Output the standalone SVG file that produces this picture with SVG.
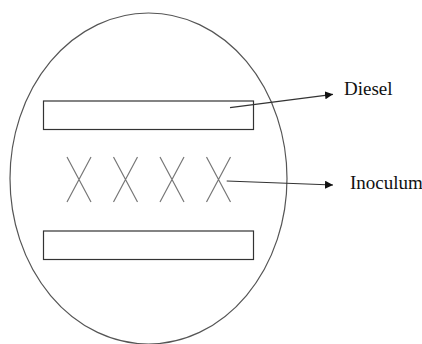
<svg xmlns="http://www.w3.org/2000/svg" width="422" height="344" viewBox="0 0 422 344">
  <style>
    .outline { fill: none; stroke: #555; stroke-width: 1.2; }
    .box { fill: #fff; stroke: #333; stroke-width: 1.2; }
    .cross { stroke: #777; stroke-width: 1.2; fill: none; }
    .conn { stroke: #333; stroke-width: 1.2; fill: none; }
    .label { font-size: 19px; fill: #111; }
  </style>
  <defs>
    <marker id="arrow" viewBox="0 0 10 10" refX="10" refY="5" markerWidth="8" markerHeight="8" markerUnits="userSpaceOnUse" orient="auto">
      <path d="M0,0 L10,5 L0,10 z" fill="#111"/>
    </marker>
  </defs>
  <rect width="422" height="344" fill="#fff"/>

  <g id="vessel">
    <ellipse class="outline" cx="148.5" cy="178.5" rx="138.5" ry="165.5"/>
  </g>

  <g id="diesel-top">
    <rect class="box" x="43.5" y="101" width="210" height="28.5"/>
  </g>

  <g id="diesel-bottom">
    <rect class="box" x="43.5" y="231" width="210" height="28.5"/>
  </g>

  <g id="inoculum">
    <path class="cross" d="M67,157 L91,202 M91,157 L67,202"/>
    <path class="cross" d="M113.5,157 L137.5,202 M137.5,157 L113.5,202"/>
    <path class="cross" d="M160,157 L184,202 M184,157 L160,202"/>
    <path class="cross" d="M206.5,157 L230.5,202 M230.5,157 L206.5,202"/>
  </g>

  <g id="connectors">
    <line class="conn" x1="230" y1="107.7" x2="333" y2="94.3" marker-end="url(#arrow)"/>
    <line class="conn" x1="226.7" y1="181" x2="333" y2="185" marker-end="url(#arrow)"/>
  </g>

  <g id="label-diesel">
    <text class="label" font-family="Liberation Serif, Times New Roman, serif" x="344" y="95">Diesel</text>
  </g>
  <g id="label-inoculum">
    <text class="label" font-family="Liberation Serif, Times New Roman, serif" x="350" y="188.5">Inoculum</text>
  </g>
</svg>
